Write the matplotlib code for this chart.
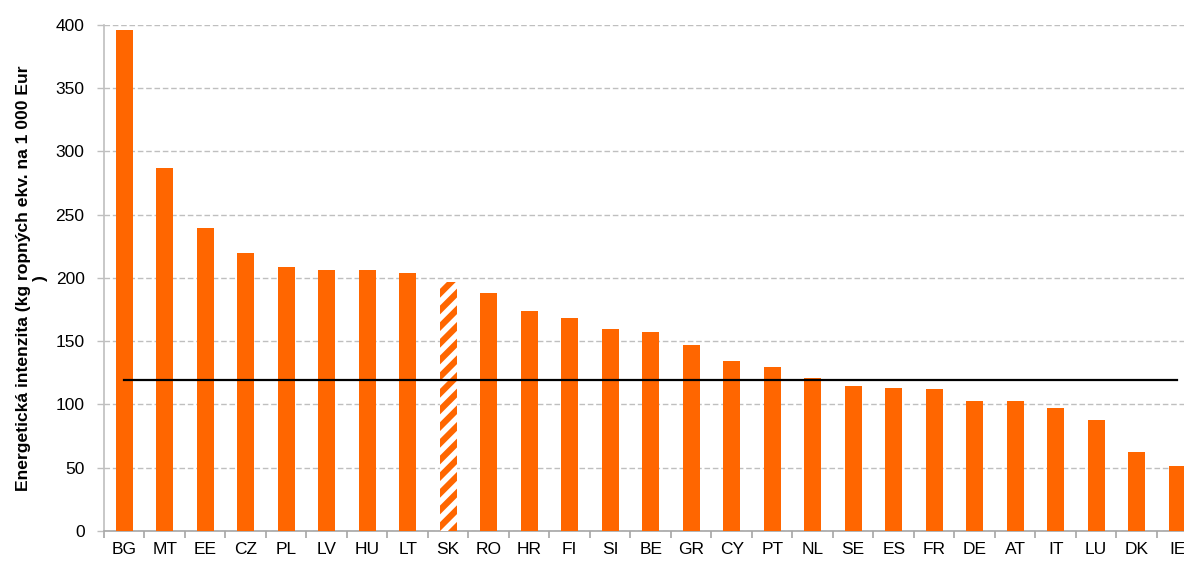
import matplotlib
matplotlib.use("Agg")
import matplotlib.pyplot as plt
import numpy as np

# energeticka intenzita, kg ropnych ekv. na 1 000 Eur
countries = ["BG", "MT", "EE", "CZ", "PL", "LV", "HU", "LT", "SK", "RO", "HR", "FI", "SI", "BE",
             "GR", "CY", "PT", "NL", "SE", "ES", "FR", "DE", "AT", "IT", "LU", "DK", "IE"]
values = [396, 287, 239.5, 220, 208.5, 206, 206, 204, 196.5, 188, 174, 168, 160, 157,
          147, 134, 130, 121, 115, 113, 112.5, 103, 102.5, 97, 87.5, 62.5, 51.5]
eu_average = 119.5
highlight = "SK"

ORANGE = "#FF6600"

plt.rcParams["font.family"] = ["Liberation Sans", "DejaVu Sans"]
plt.rcParams["hatch.linewidth"] = 4.5
plt.rcParams["hatch.color"] = ORANGE

fig = plt.figure(figsize=(11.84, 5.65), dpi=100)
ax = fig.add_axes([0.0878, 0.0602, 0.9236, 0.8956])

x = np.arange(len(countries))
colors = ["white" if c == highlight else ORANGE for c in countries]
bars = ax.bar(x, values, width=0.41, color=colors, linewidth=0, zorder=3)
for b, c in zip(bars, countries):
    if c == highlight:
        b.set_hatch("//")
        b.set_edgecolor(ORANGE)
        b.set_linewidth(0)

# EU average, drawn from first to last country
ax.plot([x[0], x[-1]], [eu_average, eu_average], color="black", linewidth=1.6, zorder=4)

ax.set_xlim(-0.5, len(countries) - 0.5)
ax.set_ylim(0, 400)
ax.set_yticks(np.arange(0, 401, 50))
ax.yaxis.grid(True, color="#BFBFBF", linestyle=(0, (4, 2)), linewidth=1.0, zorder=0)

ax.set_xticks(x)
ax.set_xticklabels(countries)
ax.set_xticks(np.arange(-0.5, len(countries), 1), minor=True)
ax.tick_params(axis="x", which="major", length=0, pad=8, labelsize=12.5)
ax.tick_params(axis="x", which="minor", length=5, color="#A6A6A6", width=1.2)
ax.tick_params(axis="y", length=5, color="#BFBFBF", width=1.0, pad=9, labelsize=12.5)

for side in ("top", "right"):
    ax.spines[side].set_visible(False)
ax.spines["left"].set_color("#BFBFBF")
ax.spines["left"].set_linewidth(1.2)
ax.spines["bottom"].set_color("#A6A6A6")
ax.spines["bottom"].set_linewidth(1.2)

ax.set_ylabel("Energetická intenzita (kg ropných ekv. na 1 000 Eur\n)",
              fontsize=12.6, fontweight="bold", multialignment="center", linespacing=1.2)
ax.yaxis.set_label_coords(-0.051, 0.5)

fig.savefig("out.png", dpi=100)
